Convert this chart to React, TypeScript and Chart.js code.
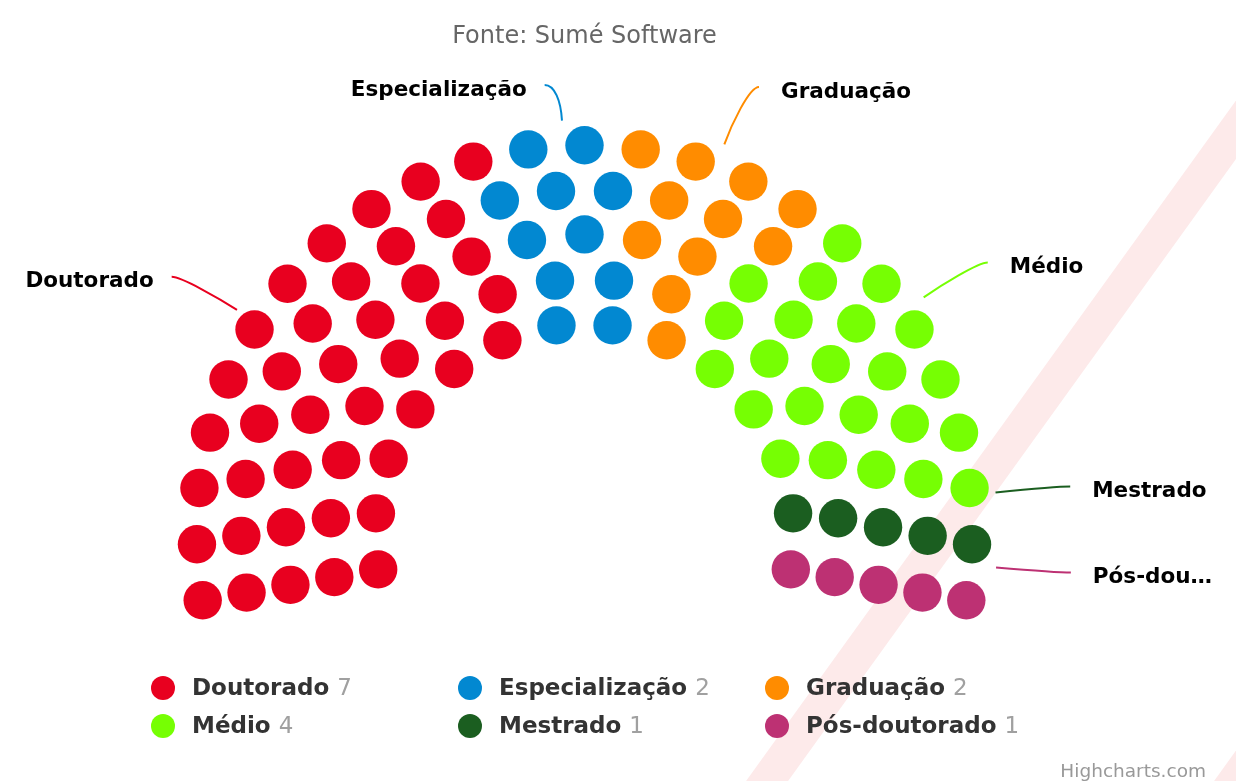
import React, { useEffect, useRef } from "react";
import { Chart, registerables } from "chart.js";

Chart.register(...registerables);

// ---- data ----
const categories = ["Doutorado", "Especialização", "Graduação", "Médio", "Mestrado", "Pós-doutorado"];
const legendValues = [7, 2, 2, 4, 1, 1];
const itemCounts = [41, 11, 11, 23, 5, 5];
const colors = ["#e8001f", "#0288d1", "#ff8c00", "#76ff03", "#1b5e20", "#bd3173"];
const subtitleText = "Fonte: Sumé Software";
const creditText = "Highcharts.com";

// ---- layout ----
const W = 1236;
const H = 781;
const CX = 584.5;
const CY = 533;
const INNER_R = 209.5;
const OUTER_R = 387.7;
const ROWS = 5;
const START = (-190 * Math.PI) / 180;
const END = (10 * Math.PI) / 180;
const FULL = END - START;
const DOT_R = 19.2;
const CONNECT_R = 413;
const LABEL_R = 474;
const FONT = '"DejaVu Sans", Verdana, sans-serif';

type Slot = { a: number; x: number; y: number };

function buildSlots(total: number): Slot[] {
  const radii = Array.from({ length: ROWS }, (_, i) => INNER_R + (i * (OUTER_R - INNER_R)) / (ROWS - 1));
  const sum = radii.reduce((s, r) => s + r, 0);
  const raw = radii.map((r) => (total * r) / sum);
  const counts = raw.map((v) => Math.floor(v));
  const rem = total - counts.reduce((s, c) => s + c, 0);
  const order = raw.map((v, i) => ({ i, f: v - Math.floor(v) })).sort((p, q) => q.f - p.f);
  for (let k = 0; k < rem; k++) counts[order[k].i]++;
  const slots: Slot[] = [];
  radii.forEach((r, i) => {
    const n = counts[i];
    for (let c = 0; c < n; c++) {
      const a = START + (c * FULL) / (n - 1);
      slots.push({ a, x: CX + Math.cos(a) * r, y: CY + Math.sin(a) * r });
    }
  });
  slots.sort((p, q) => p.a - q.a);
  return slots;
}

function buildDatasets() {
  const total = itemCounts.reduce((s, v) => s + v, 0);
  const slots = buildSlots(total);
  let idx = 0;
  return categories.map((name, ci) => {
    const pts = [];
    for (let k = 0; k < itemCounts[ci]; k++) {
      const s = slots[idx++];
      pts.push({ x: s.x, y: s.y });
    }
    return {
      label: name,
      data: pts,
      backgroundColor: colors[ci],
      borderColor: colors[ci],
      borderWidth: 0,
      pointRadius: DOT_R,
      pointHoverRadius: DOT_R,
    };
  });
}

const decorPlugin = {
  id: "decor",
  beforeDraw(chart: any) {
    const ctx = chart.ctx as CanvasRenderingContext2D;
    ctx.save();
    ctx.fillStyle = "#ffffff";
    ctx.fillRect(0, 0, W, H);
    // faint diagonal watermark bands
    ctx.fillStyle = "#fdeaea";
    const leftAt = (y: number) => 862 - 0.72 * (y - 620);
    [0, 468].forEach((off) => {
      ctx.beginPath();
      ctx.moveTo(leftAt(0) + off, 0);
      ctx.lineTo(leftAt(0) + off + 42, 0);
      ctx.lineTo(leftAt(H) + off + 42, H);
      ctx.lineTo(leftAt(H) + off, H);
      ctx.closePath();
      ctx.fill();
    });
    ctx.restore();
  },
  afterDatasetsDraw(chart: any) {
    const ctx = chart.ctx as CanvasRenderingContext2D;
    const total = itemCounts.reduce((s, v) => s + v, 0);
    ctx.save();

    // subtitle
    ctx.font = `24px ${FONT}`;
    ctx.fillStyle = "#666666";
    ctx.textAlign = "center";
    ctx.textBaseline = "middle";
    ctx.fillText(subtitleText, CX, 37);

    // data labels with connectors
    let cum = 0;
    categories.forEach((name, ci) => {
      const n = itemCounts[ci];
      const a = START + ((cum + n / 2) / total) * FULL;
      cum += n;
      const right = Math.cos(a) >= 0;
      const ex = CX + Math.cos(a) * CONNECT_R;
      const ey = CY + Math.sin(a) * CONNECT_R;
      const lx = CX + Math.cos(a) * LABEL_R + (right ? 14 : -14);
      const ly = Math.max(85, CY + Math.sin(a) * LABEL_R);
      ctx.strokeStyle = colors[ci];
      ctx.lineWidth = 2;
      ctx.beginPath();
      ctx.moveTo(lx, ly);
      ctx.bezierCurveTo(
        lx + (right ? -10 : 10),
        ly,
        CX + Math.cos(a) * (CONNECT_R + 20),
        CY + Math.sin(a) * (CONNECT_R + 20),
        ex,
        ey
      );
      ctx.stroke();

      ctx.font = `bold 21.5px ${FONT}`;
      ctx.fillStyle = "#000000";
      ctx.textBaseline = "middle";
      if (right) {
        ctx.textAlign = "left";
        const tx = lx + 22;
        const maxW = 1218 - tx;
        let text = name;
        if (ctx.measureText(text).width > maxW) {
          let cut = name;
          while (cut.length > 1 && ctx.measureText(cut + "…").width > maxW) cut = cut.slice(0, -1);
          text = cut + "…";
        }
        ctx.fillText(text, tx, ly + 5);
      } else {
        ctx.textAlign = "right";
        ctx.fillText(name, lx - 18, ly + 5);
      }
    });

    // legend
    categories.forEach((name, i) => {
      const col = i % 3;
      const row = Math.floor(i / 3);
      const sx = 163 + col * 307;
      const sy = 688 + row * 38;
      ctx.fillStyle = colors[i];
      ctx.beginPath();
      ctx.arc(sx, sy, 12, 0, Math.PI * 2);
      ctx.fill();
      ctx.textAlign = "left";
      ctx.textBaseline = "middle";
      ctx.font = `bold 23px ${FONT}`;
      ctx.fillStyle = "#333333";
      const tx = sx + 29;
      ctx.fillText(name, tx, sy + 1);
      const w = ctx.measureText(name + " ").width;
      ctx.font = `23px ${FONT}`;
      ctx.fillStyle = "#a0a0a0";
      ctx.fillText(String(legendValues[i]), tx + w, sy + 1);
    });

    // credits
    ctx.font = `18.5px ${FONT}`;
    ctx.fillStyle = "#999999";
    ctx.textAlign = "right";
    ctx.textBaseline = "middle";
    ctx.fillText(creditText, 1206, 772);

    ctx.restore();
  },
};

export default function App() {
  const ref = useRef<HTMLCanvasElement | null>(null);
  useEffect(() => {
    if (!ref.current) return;
    const chart = new Chart(ref.current, {
      type: "scatter",
      data: { datasets: buildDatasets() as any },
      options: {
        animation: false,
        responsive: false,
        devicePixelRatio: 1,
        events: [],
        layout: { padding: 0, autoPadding: false },
        scales: {
          x: { type: "linear", min: 0, max: W, display: false },
          y: { type: "linear", min: 0, max: H, reverse: true, display: false },
        },
        plugins: {
          legend: { display: false },
          title: { display: false },
          tooltip: { enabled: false },
        },
      },
      plugins: [decorPlugin],
    });
    return () => chart.destroy();
  }, []);
  return (
    <div style={{ position: "fixed", left: 0, top: 0, width: W, height: H, background: "#fff" }}>
      <canvas ref={ref} width={W} height={H} style={{ display: "block", width: W, height: H }} />
    </div>
  );
}
